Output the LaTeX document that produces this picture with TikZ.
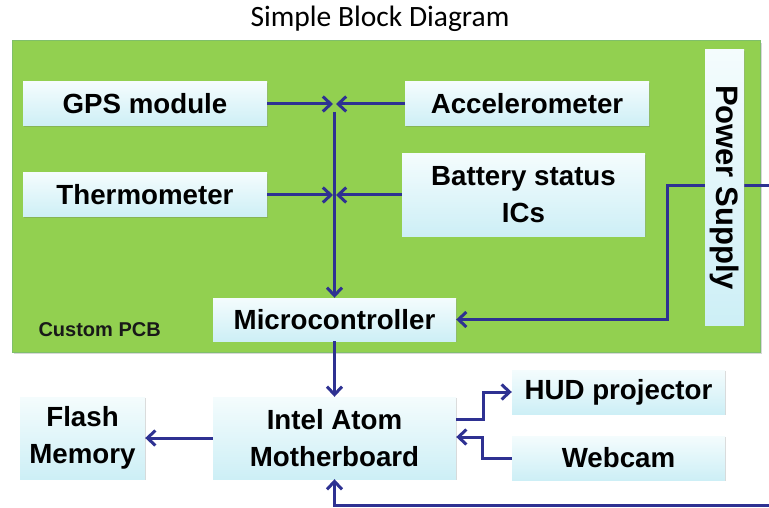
\documentclass[tikz,border=0pt]{standalone}
\usepackage{fontspec}
\setmainfont{Liberation Sans}
\newfontfamily\titlefont{Carlito}
\usetikzlibrary{arrows.meta,calc,shadows}
\definecolor{pcbgreen}{HTML}{92D050}
\definecolor{pcbedge}{HTML}{7FBF6A}
\definecolor{wire}{HTML}{2E3192}
\definecolor{boxtop}{HTML}{F4FCFD}
\definecolor{boxbot}{HTML}{CDEFF6}
\begin{document}
\begin{tikzpicture}[x=1pt,y=-1pt,
  blockbox/.style={top color=boxtop, bottom color=boxbot, draw=none, inner sep=0pt,
    align=center, font=\bfseries\fontsize{27.7}{37}\selectfont,
    drop shadow={shadow xshift=1.2pt, shadow yshift=-1.2pt, opacity=0.25, fill=black!60}},
  wirearrow/.style={draw=wire, line width=3pt, -{Straight Barb[length=8pt,width=15pt]}},
  wireline/.style={draw=wire, line width=3pt}]
\useasboundingbox (0,0) rectangle (769,508);
\fill[white] (0,0) rectangle (769,508);
% title
\node[font=\titlefont\fontsize{29.5}{34}\selectfont] (title) at (380,19) {Simple Block Diagram};
% PCB
\node[fill=pcbgreen, draw=pcbedge, line width=1pt, minimum width=748pt, minimum height=311pt,
  inner sep=0pt, drop shadow={shadow xshift=1.5pt, shadow yshift=-2pt, opacity=0.25, fill=black!60}]
  (pcb) at (386,196.5) {};
\node[anchor=base west, font=\bfseries\fontsize{20}{22}\selectfont, text=black!90] (pcblabel) at (35,336) {Custom PCB};
% junctions
\coordinate (j1) at (334.5,104);
\coordinate (j2) at (334.5,195);
\coordinate (pin) at (769,186);
\coordinate (pbend) at (667,186);
\coordinate (bin) at (769,505);
% power wire (behind power supply box)
\node[blockbox, minimum width=243pt, minimum height=43pt] (micro) at (334.5,319.5) {Microcontroller};
\draw[wirearrow] (pin) -- (pbend) |- (micro.east);
% blocks
\node[blockbox, minimum width=244pt, minimum height=44pt] (gps) at (145,104) {GPS module};
\node[blockbox, minimum width=244pt, minimum height=44pt] (thermo) at (145,195) {Thermometer};
\node[blockbox, minimum width=244pt, minimum height=44pt] (accel) at (527,104) {Accelerometer};
\node[blockbox, minimum width=243pt, minimum height=82pt] (batt) at (523.5,195) {Battery status\\ICs};
\node[blockbox, minimum width=275pt, minimum height=39pt, rotate=-90,
  font=\bfseries\fontsize{31}{34}\selectfont] (power) at (724.5,187.5) {Power Supply};
\node[blockbox, minimum width=243pt, minimum height=82pt] (mobo) at (334.5,438) {Intel Atom\\Motherboard};
\node[blockbox, minimum width=125pt, minimum height=82pt] (flash) at (82.5,438) {Flash\\Memory};
\node[blockbox, minimum width=213pt, minimum height=44pt] (hud) at (618.5,392) {HUD projector};
\node[blockbox, minimum width=213pt, minimum height=44pt] (webcam) at (618.5,458) {Webcam};
% connectors
\draw[wirearrow] (gps.east) -- ($(j1)+(-1.5,0)$);
\draw[wirearrow] (accel.west) -- ($(j1)+(1.5,0)$);
\draw[wirearrow] (thermo.east) -- ($(j2)+(-1.5,0)$);
\draw[wirearrow] (batt.west) -- ($(j2)+(1.5,0)$);
\draw[wirearrow] ($(j1)+(0,8)$) -- (micro.north);
\draw[wirearrow] (micro.south) -- (mobo.north);
\draw[wirearrow] (mobo.west) -- (flash.east);
\draw[wirearrow] ($(mobo.east)+(0,-19)$) -- ++(27,0) |- (hud.west);
\draw[wirearrow] (webcam.west) -- ++(-29,0) |- ($(mobo.east)+(0,-1)$);
\draw[wirearrow] (bin) -| (mobo.south);
\end{tikzpicture}
\end{document}
